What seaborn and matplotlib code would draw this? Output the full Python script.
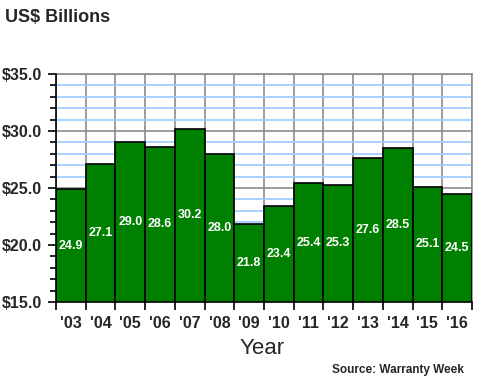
import pandas as pd
import matplotlib.pyplot as plt
import seaborn as sns
from matplotlib.ticker import MultipleLocator, FixedLocator

# Warranty claims, US$ billions
years = ["'03", "'04", "'05", "'06", "'07", "'08", "'09", "'10",
         "'11", "'12", "'13", "'14", "'15", "'16"]
claims = [24.9, 27.1, 29.0, 28.6, 30.2, 28.0, 21.8, 23.4,
          25.4, 25.3, 27.6, 28.5, 25.1, 24.5]

df = pd.DataFrame({'Year': years, 'Claims': claims})

sns.set_style('white')
plt.rcParams['font.family'] = ['Liberation Sans', 'DejaVu Sans']

fig = plt.figure(figsize=(4.8, 3.9), dpi=100)
ax = fig.add_axes([56 / 480, 1 - 302 / 390, 416 / 480, 228 / 390])

sns.barplot(x='Year', y='Claims', data=df, color='#008000', width=1.0,
            edgecolor='black', linewidth=1.2, saturation=1, ax=ax, zorder=3)

ax.set_xlim(-0.5, len(years) - 0.5)
ax.set_ylim(15, 35)

# grid: blue minor, grey major, grey verticals between bars
ax.yaxis.set_major_locator(MultipleLocator(5))
ax.yaxis.set_minor_locator(MultipleLocator(1))
ax.xaxis.set_minor_locator(FixedLocator([i - 0.5 for i in range(len(years) + 1)]))
ax.grid(which='minor', axis='y', color='#99ccff', linewidth=1.2, zorder=0)
ax.grid(which='major', axis='y', color='#8c8c8c', linewidth=1.2, zorder=1)
ax.grid(which='minor', axis='x', color='#8c8c8c', linewidth=1.2, zorder=1)
ax.set_axisbelow(True)

for side in ['top', 'right']:
    ax.spines[side].set_color('#8c8c8c')
    ax.spines[side].set_linewidth(1.2)
for side in ['left', 'bottom']:
    ax.spines[side].set_color('black')
    ax.spines[side].set_linewidth(1.2)
    ax.spines[side].set_zorder(5)

ax.set_yticklabels([f'${v:.1f}' for v in ax.get_yticks()])
ax.tick_params(axis='y', which='major', length=6, width=1.2, color='black',
               labelsize=11.5, pad=4, direction='out', left=True)
ax.tick_params(axis='y', which='minor', length=4, width=1.2, color='black',
               direction='out', left=True)
ax.tick_params(axis='x', which='major', length=0, labelsize=11.5, pad=10)
ax.tick_params(axis='x', which='minor', length=6, width=1.2, color='black',
               direction='out', bottom=True)
for lab in ax.get_xticklabels() + ax.get_yticklabels():
    lab.set_fontweight('bold')

ax.set_xlabel('')
ax.set_ylabel('')

# value labels in the middle of each bar
for i, v in enumerate(claims):
    ax.text(i, (15 + v) / 2, f'{v:.1f}', color='white', fontsize=9,
            fontweight='bold', ha='center', va='center', zorder=6)

fig.text(5 / 480, 1 - 18 / 390, 'US$ Billions', fontsize=13, fontweight='bold',
         ha='left', va='center')
fig.text(262 / 480, 1 - 348 / 390, 'Year', fontsize=16, ha='center', va='center')
fig.text(464 / 480, 1 - 370 / 390, 'Source: Warranty Week', fontsize=8.5,
         fontweight='bold', ha='right', va='center')

plt.savefig('out.png', dpi=100)
